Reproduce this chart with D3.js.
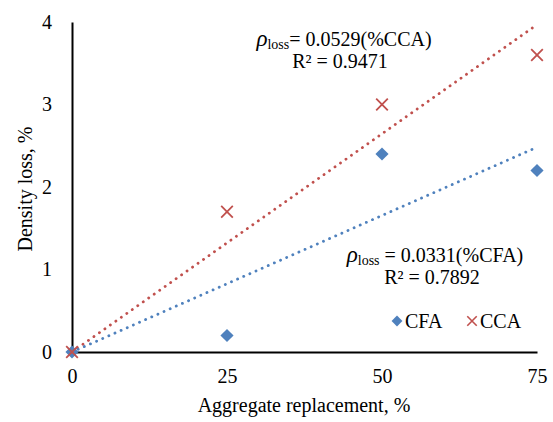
<!DOCTYPE html>
<html>
<head>
<meta charset="utf-8">
<script src="https://cdn.jsdelivr.net/npm/d3@7"></script>
<style>
  body { margin: 0; background: #fff; }
  svg { font-family: "Liberation Serif", "Times New Roman", serif; }
</style>
</head>
<body>
<svg id="chart" width="553" height="422"></svg>
<script>
const width = 553;
const height = 422;

// --- Data ---
const replacement = [0, 25, 50, 75];
const cfaLoss = [0, 0.2, 2.4, 2.2];
const ccaLoss = [0, 1.7, 3.0, 3.6];
const cfaSlope = 0.0331;
const ccaSlope = 0.0529;
const xTicks = [0, 25, 50, 75];
const yTicks = [0, 1, 2, 3, 4];

const blue = "#4f81bd";
const red = "#c0504d";
const fontSize = 20;

const svg = d3.select("#chart");

const x = d3.scaleLinear().domain([0, 75]).range([72, 537]);
const y = d3.scaleLinear().domain([0, 4]).range([352, 22]);

// --- Axes (lines only, no tick marks) ---
const xAxis = svg.append("g")
  .attr("transform", `translate(0,${y(0)})`)
  .call(d3.axisBottom(x).tickValues(xTicks).tickFormat(d3.format("d")).tickSize(0).tickPadding(17));
xAxis.attr("font-family", null).attr("font-size", fontSize);
xAxis.select(".domain").attr("stroke", "#000").attr("stroke-width", 2);
xAxis.selectAll("text").attr("fill", "#000");

const yAxis = svg.append("g")
  .attr("transform", `translate(${x(0)},0)`)
  .call(d3.axisLeft(y).tickValues(yTicks).tickFormat(d3.format("d")).tickSize(0).tickPadding(20));
yAxis.attr("font-family", null).attr("font-size", fontSize);
yAxis.select(".domain").attr("stroke", "#000").attr("stroke-width", 2);
yAxis.selectAll("text").attr("fill", "#000");

// --- Axis titles ---
svg.append("text")
  .attr("x", 304)
  .attr("y", 412)
  .attr("text-anchor", "middle")
  .attr("font-size", fontSize)
  .text("Aggregate replacement, %");

svg.append("text")
  .attr("transform", "rotate(-90)")
  .attr("x", -189)
  .attr("y", 32)
  .attr("text-anchor", "middle")
  .attr("font-size", fontSize)
  .text("Density loss, %");

// --- Trendlines (dotted) ---
const trend = (slope, color) => {
  svg.append("line")
    .attr("x1", x(0)).attr("y1", y(0))
    .attr("x2", x(75)).attr("y2", y(slope * 75))
    .attr("stroke", color)
    .attr("stroke-width", 2.8)
    .attr("stroke-linecap", "round")
    .attr("stroke-dasharray", "0.1,6.6");
};
trend(ccaSlope, red);
trend(cfaSlope, blue);

// --- Markers ---
const diamond = d3.symbol().type(d3.symbolDiamond2).size(110);
const cross = d3.symbol().type(d3.symbolX).size(90);

svg.append("g").selectAll("path")
  .data(replacement.map((r, i) => [r, cfaLoss[i]]))
  .join("path")
  .attr("transform", d => `translate(${x(d[0])},${y(d[1])})`)
  .attr("d", diamond)
  .attr("fill", blue);

svg.append("g").selectAll("path")
  .data(replacement.map((r, i) => [r, ccaLoss[i]]))
  .join("path")
  .attr("transform", d => `translate(${x(d[0])},${y(d[1])})`)
  .attr("d", cross)
  .attr("fill", "none")
  .attr("stroke", red)
  .attr("stroke-width", 1.8);

// --- Equation labels ---
const equation = (cx, yy, rest, r2x, r2) => {
  const t = svg.append("text")
    .attr("x", cx)
    .attr("y", yy)
    .attr("text-anchor", "middle")
    .attr("font-size", fontSize);
  t.append("tspan").attr("font-style", "italic").attr("font-size", 23).text("ρ");
  t.append("tspan").attr("font-size", 14).attr("dy", 3).text("loss");
  t.append("tspan").attr("dy", -3).text(rest);
  svg.append("text")
    .attr("x", r2x)
    .attr("y", yy + 22)
    .attr("text-anchor", "middle")
    .attr("font-size", fontSize)
    .text(r2);
};
equation(344, 46, "= 0.0529(%CCA)", 340, "R² = 0.9471");
equation(435, 262, " = 0.0331(%CFA)", 432, "R² = 0.7892");

// --- Legend ---
const legend = svg.append("g");
legend.append("path")
  .attr("transform", "translate(397,321)")
  .attr("d", d3.symbol().type(d3.symbolDiamond2).size(75))
  .attr("fill", blue);
legend.append("text")
  .attr("x", 405).attr("y", 328)
  .attr("font-size", fontSize)
  .text("CFA");
legend.append("path")
  .attr("transform", "translate(472,321)")
  .attr("d", d3.symbol().type(d3.symbolX).size(60))
  .attr("fill", "none")
  .attr("stroke", red)
  .attr("stroke-width", 1.6);
legend.append("text")
  .attr("x", 480).attr("y", 328)
  .attr("font-size", fontSize)
  .text("CCA");
</script>
</body>
</html>
